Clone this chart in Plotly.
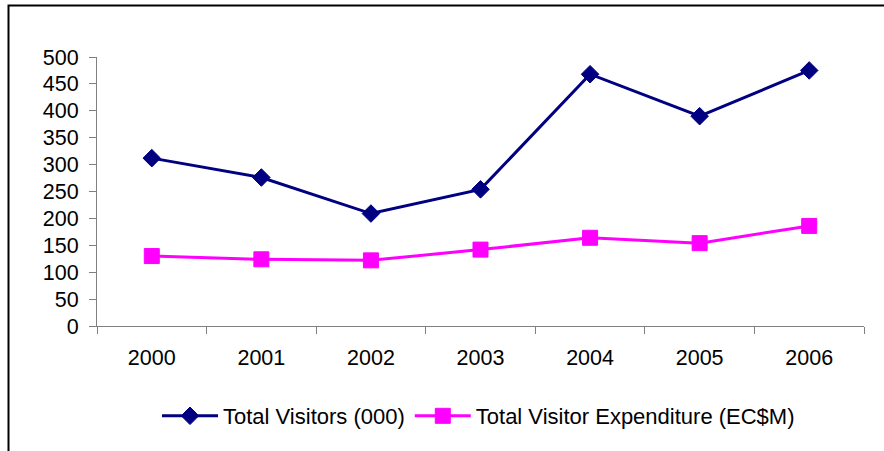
import plotly.graph_objects as go

# Annual tourism figures
years = ["2000", "2001", "2002", "2003", "2004", "2005", "2006"]
total_visitors = [312, 276, 209, 254, 468, 390, 475]          # thousands
visitor_expenditure = [130, 124, 122, 142, 164, 154, 186]     # EC$ millions
y_ticks = [0, 50, 100, 150, 200, 250, 300, 350, 400, 450, 500]

W, H = 884, 451
ML, MR, MT, MB = 97, 20, 57, 125
plot_w = W - ML - MR
plot_h = H - MT - MB

FONT = "Liberation Sans, Arial, sans-serif"

fig = go.Figure()
fig.add_trace(go.Scatter(
    x=years, y=total_visitors, mode="lines+markers",
    name="Total Visitors (000)",
    line=dict(color="#000080", width=3),
    marker=dict(symbol="diamond", size=13.5, color="#000080",
                line=dict(color="#000080", width=1)),
))
fig.add_trace(go.Scatter(
    x=years, y=visitor_expenditure, mode="lines+markers",
    name="Total Visitor Expenditure (EC$M)",
    line=dict(color="#FF00FF", width=3),
    marker=dict(symbol="square", size=15, color="#FF00FF",
                line=dict(color="#FF00FF", width=1)),
))

def px_x(p):
    return (p - ML) / plot_w

def px_y(p):
    return (H - MB - p) / plot_h

# outer chart frame (top and left edges visible)
fig.add_shape(type="rect", xref="paper", yref="paper",
              x0=px_x(8.5), x1=px_x(W + 20), y0=px_y(H + 20), y1=px_y(5.5),
              line=dict(color="black", width=2), fillcolor="rgba(0,0,0,0)")

fig.update_layout(
    width=W, height=H,
    margin=dict(l=ML, r=MR, t=MT, b=MB),
    paper_bgcolor="white", plot_bgcolor="white",
    font=dict(family=FONT, size=21.5, color="black"),
    showlegend=True,
    legend=dict(orientation="h", x=px_x(157), xanchor="left",
                y=px_y(416), yanchor="middle",
                itemwidth=56, font=dict(family=FONT, size=22, color="black"),
                bgcolor="rgba(0,0,0,0)"),
    xaxis=dict(type="category", range=[-0.5, 6.5], showgrid=False,
               showline=True, linecolor="#808080", linewidth=1,
               ticks="outside", ticklen=7, tickcolor="#808080",
               tickson="boundaries", ticklabelstandoff=12,
               tickfont=dict(family=FONT, size=21.5, color="black"),
               zeroline=False, fixedrange=True),
    yaxis=dict(range=[0, 500], tickvals=y_ticks, showgrid=False,
               showline=True, linecolor="#808080", linewidth=1,
               ticks="outside", ticklen=7, tickcolor="#808080",
               ticklabelstandoff=6,
               tickfont=dict(family=FONT, size=21.5, color="black"),
               zeroline=False, fixedrange=True),
)

fig.write_html("out.html")
